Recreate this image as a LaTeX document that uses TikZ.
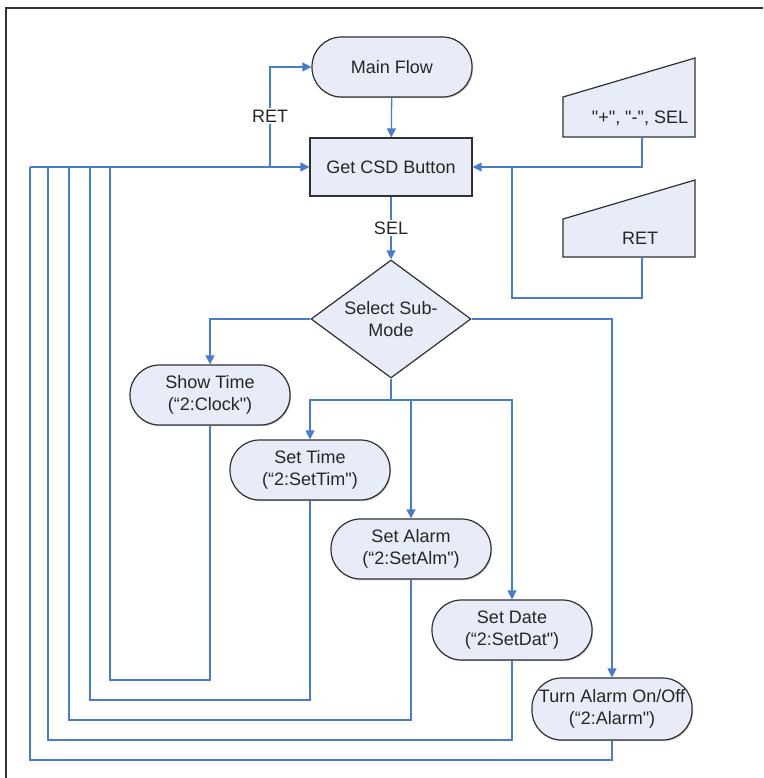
\documentclass[tikz,border=0pt]{standalone}
\usepackage{fontspec}
\setmainfont{Liberation Sans}
\usetikzlibrary{shapes.geometric,arrows.meta,shadows}
\definecolor{lnblue}{HTML}{4A7CC9}
\definecolor{nfill}{HTML}{E8ECF8}
\definecolor{nbord}{HTML}{303030}
\begin{document}
\begin{tikzpicture}[x=1pt,y=-1pt,
  every node/.style={font=\fontsize{18}{22}\selectfont, text=black!85},
  nodeshadow/.style={drop shadow={shadow xshift=1pt, shadow yshift=-1.2pt, fill=black, opacity=0.22}},
  term/.style={rectangle, rounded corners=29.5pt, draw=nbord, fill=nfill, line width=1.2pt,
    minimum width=160pt, minimum height=60pt, inner sep=0pt, align=center, nodeshadow},
  procbox/.style={rectangle, draw=nbord, fill=nfill, line width=1.2pt,
    minimum width=162pt, minimum height=58pt, inner sep=0pt, nodeshadow},
  decis/.style={diamond, aspect=1.4, draw=nbord, fill=nfill, line width=1.2pt,
    minimum width=160pt, minimum height=118pt, inner sep=0pt, align=center},
  trapz/.style={draw=nbord, fill=nfill, line width=1.2pt},
  flow/.style={draw=lnblue, line width=1.3pt},
  arr/.style={flow, -{Triangle[length=9pt,width=9pt]}},
  lbl/.style={fill=white, inner sep=2pt}
]
\useasboundingbox (0,0) rectangle (763,778);
% frame
\draw[black!80, line width=2pt] (6,778) -- (6,8) -- (763,8);

% nodes
\node[term] (mainflow) at (392,67) {Main Flow};
\node[procbox] (getcsd) at (391,167) {Get CSD Button};
\node[decis] (decis) at (391,319) {Select Sub-\\Mode};
\node[term] (showtime) at (210,395) {Show Time\\(“2:Clock\textquotedbl)};
\node[term] (settime) at (310,470) {Set Time\\(“2:SetTim\textquotedbl)};
\node[term] (setalarm) at (411,549) {Set Alarm\\(“2:SetAlm\textquotedbl)};
\node[term] (setdate) at (512,630) {Set Date\\(“2:SetDat\textquotedbl)};
\node[term, minimum height=62pt] (turnalarm) at (612,709) {Turn Alarm On/Off\\(“2:Alarm\textquotedbl)};

% manual input trapezoids
\draw[trapz] (563,97) -- (695,58) -- (695,137) -- (563,137) -- cycle;
\node (inkeys) at (640,118) {\textquotedbl+\textquotedbl, \textquotedbl-\textquotedbl, SEL};
\coordinate (inkeysb) at (642,137);
\draw[trapz] (563,219) -- (695,180) -- (695,257) -- (563,257) -- cycle;
\node (inret) at (640,238) {RET};
\coordinate (inretb) at (642,257);

% top connectors
\draw[arr] (mainflow) -- (getcsd);
\coordinate (retj) at (270,167);
\draw[arr] (retj) |- (mainflow.west);
\node[lbl] (retlbl) at (270,116) {RET};
\draw[arr] (getcsd) -- node[lbl] (sellbl) {SEL} (decis.north);
\draw[arr] (inkeysb) |- (getcsd.east);
\coordinate (retjoin) at (512,167);
\draw[flow] (inretb) -- (642,298) -| (retjoin);

% decision branches
\draw[arr] (decis.west) -| (showtime.north);
\coordinate (split) at (391,400);
\draw[flow] (decis.south) -- (split);
\draw[arr] (split) -| (settime.north);
\draw[arr] (split) -| (setalarm.north);
\draw[arr] (split) -| (setdate.north);
\draw[arr] (decis.east) -| (turnalarm.north);

% return bundle
\coordinate (b1) at (110,167);
\coordinate (b2) at (90,167);
\coordinate (b3) at (69,167);
\coordinate (b4) at (48,167);
\coordinate (b5) at (30,167);
\draw[flow] (showtime.south) |- (110,680) -- (b1);
\draw[flow] (settime.south) |- (90,700) -- (b2);
\draw[flow] (setalarm.south) |- (69,720) -- (b3);
\draw[flow] (setdate.south) |- (48,740) -- (b4);
\draw[flow] (turnalarm.south) |- (30,760) -- (b5);
\draw[arr] (b5) -- (getcsd.west);
\end{tikzpicture}
\end{document}
